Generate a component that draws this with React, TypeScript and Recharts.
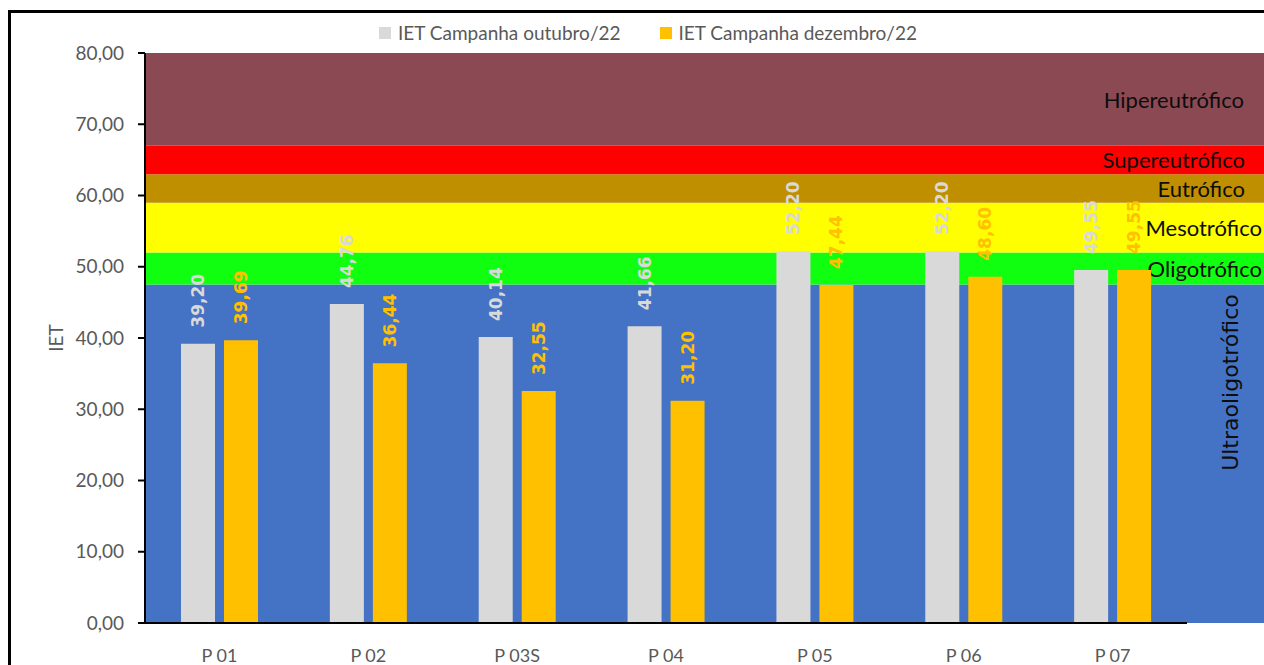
import React from 'react';
import { BarChart, Bar, XAxis, YAxis, LabelList, Legend } from 'recharts';

const categories = ['P 01', 'P 02', 'P 03S', 'P 04', 'P 05', 'P 06', 'P 07'];
const outubro = [39.2, 44.76, 40.14, 41.66, 52.2, 52.2, 49.55];
const dezembro = [39.69, 36.44, 32.55, 31.2, 47.44, 48.6, 49.55];
const yTicks = [0, 10, 20, 30, 40, 50, 60, 70, 80];
const seriesNames = ['IET Campanha outubro/22', 'IET Campanha dezembro/22'];
const seriesColors = ['#D9D9D9', '#FFC000'];

const bandNames = ['Ultraoligotrófico', 'Oligotrófico', 'Mesotrófico', 'Eutrófico', 'Supereutrófico', 'Hipereutrófico'];
const bandLow = [0, 47.5, 52, 59, 63, 67];
const bandHigh = [47.5, 52, 59, 63, 67, 80];
const bandColors = ['#4472C4', '#10FF10', '#FFFF00', '#BF8F00', '#FF0000', '#8B4953'];
const bandLabelOffsets = [34, 2, 2, 19, 19, 20];

const data = categories.map((c, i) => ({ cat: c, out: outubro[i], dez: dezembro[i] }));
const bandRow: Record<string, any> = { k: 'bands' };
bandNames.forEach((_, i) => {
  bandRow['b' + i] = bandHigh[i] - bandLow[i];
});
const bandData = [bandRow];

const FONT = 'Lato, "Open Sans", sans-serif';
const LABEL_FONT = '"DejaVu Sans", Verdana, sans-serif';
const fmt = (v: any) => Number(v).toFixed(2).replace('.', ',');

const makeBarLabel = (color: string) => (props: any) => {
  const { x, y, width, value } = props;
  const cx = Number(x) + Number(width) / 2;
  const cy = Number(y) - 16;
  return (
    <text
      x={cx}
      y={cy}
      transform={`rotate(-90 ${cx} ${cy})`}
      textAnchor="start"
      dominantBaseline="central"
      fill={color}
      fontSize={17}
      fontWeight={700}
      fontFamily={LABEL_FONT}
    >
      {fmt(value)}
    </text>
  );
};

const makeBandLabel = (i: number) => (props: any) => {
  const x = Number(props.x) + Number(props.width) - bandLabelOffsets[i];
  if (i === 0) {
    const y = Number(props.y) + 98;
    return (
      <text
        x={x}
        y={y}
        transform={`rotate(-90 ${x} ${y})`}
        textAnchor="middle"
        dominantBaseline="central"
        fill="#0d0d0d"
        fontSize={22}
        fontFamily={LABEL_FONT}
      >
        {bandNames[i]}
      </text>
    );
  }
  const y = Number(props.y) + Number(props.height) / 2;
  return (
    <text
      x={x}
      y={y}
      textAnchor="end"
      dominantBaseline="central"
      fill="#0d0d0d"
      fontSize={22}
      fontFamily={FONT}
    >
      {bandNames[i]}
    </text>
  );
};

const YLabel = (props: any) => {
  const vb = props.viewBox;
  const x = vb.x - 10;
  const y = vb.y + vb.height / 2;
  return (
    <text
      x={x}
      y={y}
      transform={`rotate(-90 ${x} ${y})`}
      textAnchor="middle"
      dominantBaseline="central"
      fill="#595959"
      fontSize={19}
      fontFamily={FONT}
    >
      IET
    </text>
  );
};

const LegendContent = () => (
  <div
    style={{
      display: 'flex',
      justifyContent: 'center',
      alignItems: 'center',
      gap: 39,
      fontFamily: FONT,
      fontSize: 19,
      color: '#595959',
      lineHeight: '22px',
    }}
  >
    {seriesNames.map((n, i) => (
      <div key={n} style={{ display: 'flex', alignItems: 'center', gap: 7 }}>
        <span style={{ display: 'inline-block', width: 12, height: 12, background: seriesColors[i] }} />
        <span>{n}</span>
      </div>
    ))}
  </div>
);

export default function App() {
  return (
    <div style={{ position: 'absolute', left: 0, top: 0, width: 1264, height: 665, overflow: 'hidden', background: '#fff' }}>
      <div
        style={{
          position: 'absolute',
          left: 8,
          top: 10,
          width: 1400,
          height: 800,
          borderLeft: '3px solid #000',
          borderTop: '3px solid #000',
        }}
      />
      <div style={{ position: 'absolute', left: 0, top: 0 }}>
        <BarChart
          width={1264}
          height={665}
          data={bandData}
          margin={{ left: 146, right: 0, top: 53, bottom: 42 }}
          barCategoryGap={0}
          barGap={0}
        >
          <XAxis dataKey="k" hide height={0} />
          <YAxis hide width={0} domain={[0, 80]} ticks={yTicks} />
          {bandNames.map((name, i) => (
            <Bar key={name} dataKey={'b' + i} stackId="bands" fill={bandColors[i]} isAnimationActive={false}>
              <LabelList dataKey={'b' + i} content={makeBandLabel(i)} />
            </Bar>
          ))}
        </BarChart>
      </div>
      <div style={{ position: 'absolute', left: 0, top: 0 }}>
        <BarChart
          width={1264}
          height={665}
          data={data}
          margin={{ left: 65, right: 77, top: 53, bottom: 12 }}
          barGap={9}
          barSize={34}
        >
          <Legend
            verticalAlign="middle"
            align="center"
            wrapperStyle={{ top: 22, left: 32, width: 1232 }}
            content={<LegendContent />}
          />
          <XAxis
            dataKey="cat"
            height={30}
            axisLine={{ stroke: '#000', strokeWidth: 2 }}
            tickLine={false}
            tickSize={0}
            tickMargin={26}
            tick={{ fill: '#595959', fontSize: 18, fontFamily: FONT }}
          />
          <YAxis
            width={80}
            domain={[0, 80]}
            ticks={yTicks}
            interval={0}
            tickFormatter={fmt}
            axisLine={{ stroke: '#000', strokeWidth: 2 }}
            tickLine={{ stroke: '#000', strokeWidth: 2 }}
            tickSize={7}
            tickMargin={14}
            tick={{ fill: '#595959', fontSize: 19, fontFamily: FONT }}
            label={<YLabel />}
          />
          <Bar dataKey="out" name={seriesNames[0]} fill={seriesColors[0]} isAnimationActive={false}>
            <LabelList dataKey="out" content={makeBarLabel(seriesColors[0])} />
          </Bar>
          <Bar dataKey="dez" name={seriesNames[1]} fill={seriesColors[1]} isAnimationActive={false}>
            <LabelList dataKey="dez" content={makeBarLabel(seriesColors[1])} />
          </Bar>
        </BarChart>
      </div>
    </div>
  );
}
